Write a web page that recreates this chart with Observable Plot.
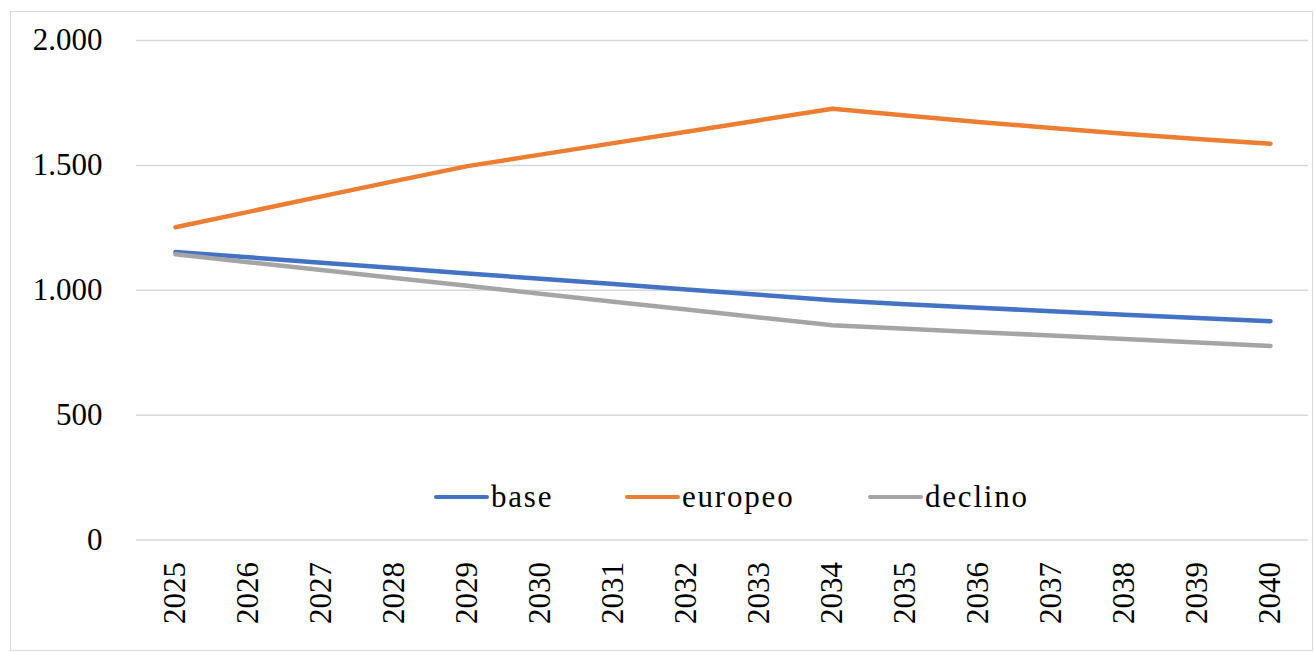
<!DOCTYPE html>
<html><head><meta charset="utf-8">
<script src="https://cdn.jsdelivr.net/npm/d3@7"></script>
<script src="https://cdn.jsdelivr.net/npm/@observablehq/plot@0.6"></script>
<style>
body{margin:0;background:#fff;}
#wrap{position:relative;width:1315px;height:652px;overflow:hidden;font-family:'Liberation Serif',serif;background:#fff;}
#frame{position:absolute;left:10px;top:11px;width:1303px;height:640px;border:1.5px solid #d9d9d9;box-sizing:border-box;}
#chart{position:absolute;left:0;top:0;}
.item{position:absolute;top:478px;height:38px;display:flex;align-items:center;font-size:31px;letter-spacing:1.8px;color:#000;white-space:nowrap;font-family:'Liberation Serif',serif;}
.sw{display:inline-block;width:55px;height:4.5px;border-radius:2.5px;margin-right:2px;}
</style></head>
<body>
<div id="wrap"><div id="frame"></div><div id="chart"></div></div>
<script>
const years = ["2025","2026","2027","2028","2029","2030","2031","2032","2033","2034","2035","2036","2037","2038","2039","2040"];
const base    = [1153,1132,1110,1089,1067,1046,1025,1003,982,960,944,930,916,902,889,876];
const europeo = [1252,1314,1376,1437,1497,1543,1589,1635,1681,1727,1700,1674,1650,1627,1606,1587];
const declino = [1144,1112,1081,1049,1018,986,954,923,891,860,846,832,819,805,791,777];
const seriesNames = ["base","europeo","declino"];
const seriesColors = ["#4472C4","#ED7D31","#A5A5A5"];
const yTicks = [0,500,1000,1500,2000];

const seriesValues = [base, europeo, declino];
const data = seriesNames.flatMap((s,i)=> seriesValues[i].map((v,j)=>({year:years[j], value:v, series:s})));
const itFormat = d3.formatLocale({decimal:",",thousands:".",grouping:[3],currency:["€",""]}).format(",.0f");

const chart = Plot.plot({
  width:1315, height:652,
  marginLeft:136, marginRight:7, marginTop:40, marginBottom:112.5,
  style:{fontFamily:"'Liberation Serif',serif", fontSize:"31px", color:"#000", background:"transparent", overflow:"visible"},
  x:{type:"point", domain:years, padding:0.5, label:null},
  y:{domain:[0,2000], label:null},
  color:{domain:seriesNames, range:seriesColors},
  marks:[
    Plot.gridY(yTicks,{stroke:"#d9d9d9", strokeOpacity:1, strokeWidth:1.5}),
    Plot.axisY(yTicks,{tickSize:0, tickPadding:34, tickFormat:itFormat, fontSize:31, label:null}),
    Plot.axisX({tickSize:0, tickRotate:-90, tickPadding:22, fontSize:31, label:null}),
    Plot.line(data,{x:"year", y:"value", z:"series", stroke:"series", strokeWidth:4.5, strokeLinecap:"round", strokeLinejoin:"round"})
  ]
});
document.getElementById("chart").appendChild(chart);

// legend placed inside the plot area, as in the reference
const legendLeft = [434, 625, 868];
const wrap = document.getElementById("wrap");
seriesNames.forEach((s,i)=>{
  const it = document.createElement("div");
  it.className = "item";
  it.style.left = legendLeft[i] + "px";
  const sw = document.createElement("span");
  sw.className = "sw";
  sw.style.background = seriesColors[i];
  const tx = document.createElement("span");
  tx.textContent = s;
  it.appendChild(sw); it.appendChild(tx);
  wrap.appendChild(it);
});
</script>
</body></html>
